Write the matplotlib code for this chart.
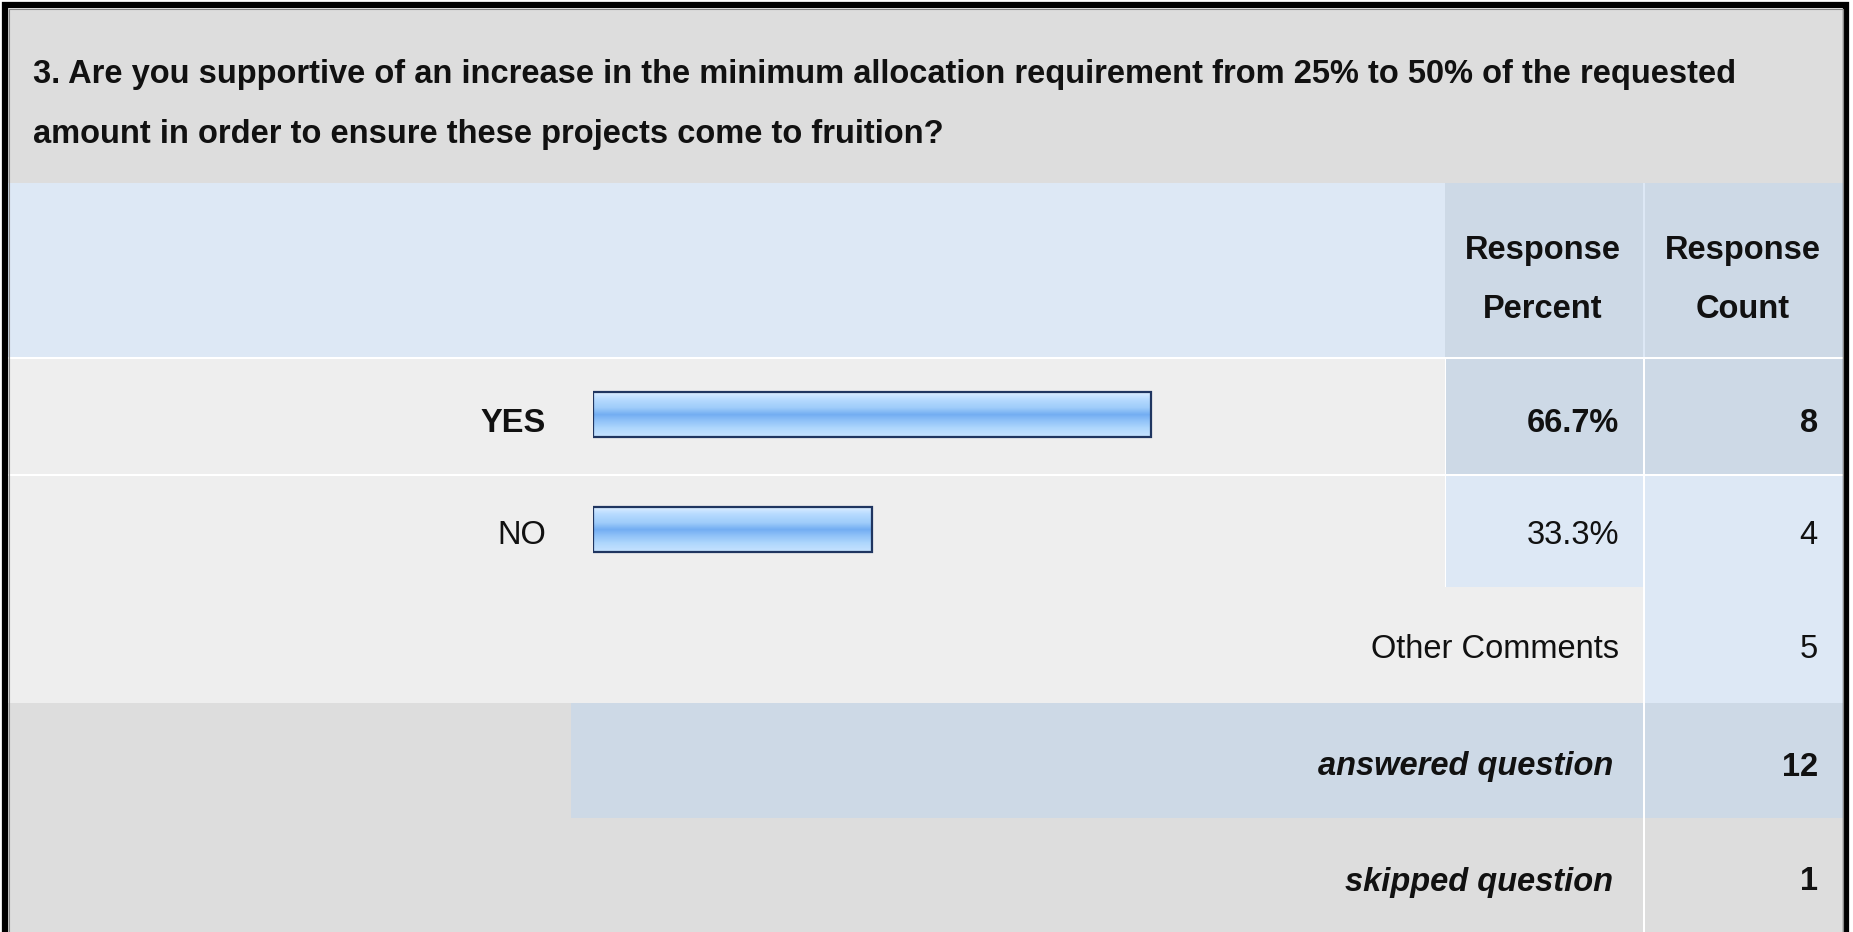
import matplotlib
matplotlib.use("Agg")
import matplotlib.pyplot as plt
from matplotlib.patches import Rectangle
from matplotlib import font_manager
import numpy as np

# ---- data ----
title_lines = ["3. Are you supportive of an increase in the minimum allocation requirement from 25% to 50% of the requested",
               "amount in order to ensure these projects come to fruition?"]
categories = ["YES", "NO"]
percents = [66.7, 33.3]
counts = [8, 4]
header_percent = ["Response", "Percent"]
header_count = ["Response", "Count"]
other_label = "Other Comments"
other_count = 5
answered_label = "answered question"
answered_count = 12
skipped_label = "skipped question"
skipped_count = 1

W, H = 1853, 932
names = {f.name for f in font_manager.fontManager.ttflist}
FONT = ["Liberation Sans Narrow", "Liberation Sans", "DejaVu Sans"] if "Liberation Sans Narrow" in names else ["Liberation Sans", "DejaVu Sans"]

fig = plt.figure(figsize=(W / 100, H / 100), dpi=100)
ax = fig.add_axes([0, 0, 1, 1])
ax.set_xlim(0, W)
ax.set_ylim(H, 0)
ax.axis("off")

GRAY = "#dddddd"
ROW = "#eeeeee"
LBLUE = "#dde8f5"
DBLUE = "#cdd9e6"

def rect(x0, y0, x1, y1, c, z=1):
    ax.add_patch(Rectangle((x0, y0), x1 - x0, y1 - y0, facecolor=c, edgecolor="none", zorder=z))

# layout (pixel positions)
L, R = 8, 1843
cP0, cP1, cC0 = 1445, 1643, 1645
yT, yH, yY, yN, yO, yA, yS = 9, 183, 357, 474, 587, 703, 818

rect(0, 0, W, H, "white", 0)
rect(L, yT, R, yH, GRAY)
rect(L, yH, R, yY, LBLUE)
rect(cP0, yH, cP1, yY, DBLUE)
rect(cC0, yH, R, yY, DBLUE)
# YES row
rect(L, yY + 2, cP0, yN, ROW)
rect(cP0 + 1, yY + 2, cP1, yN, DBLUE)
rect(cC0, yY + 2, R, yN, DBLUE)
# NO row
rect(L, yN + 2, cP0, yO, ROW)
rect(cP0 + 1, yN + 2, cP1, yO, LBLUE)
rect(cC0, yN + 2, R, yO, LBLUE)
# Other comments row
rect(L, yO, cP1, yA, ROW)
rect(cC0, yO, R, yA, LBLUE)
# answered row
rect(L, yA, cP1, yS, GRAY)
rect(571, yA, cP1, yS, DBLUE)
rect(cC0, yA, R, yS, DBLUE)
# skipped row
rect(L, yS, cP1, H, GRAY)
rect(cC0, yS, R, H, GRAY)

# border
ax.plot([5, 5, 1846, 1846], [H, 5, 5, H], color="black", lw=4.5, solid_joinstyle="miter", zorder=5)
ax.plot([8.5, 8.5, 1842.5, 1842.5], [H, 8.5, 8.5, H], color="#888888", lw=0.8, zorder=5)

DY = 4

def txt(x, y, s, size, ha="right", weight="normal", style="normal"):
    return ax.text(x, y + DY, s, fontsize=size, ha=ha, va="center", fontweight=weight,
                   fontstyle=style, family=FONT, color="#111111", zorder=6)

# title, fitted to the reference width
renderer = fig.canvas.get_renderer()
t1 = txt(33, 71, title_lines[0], 24, ha="left", weight="bold")
bb = t1.get_window_extent(renderer)
tsize = 24 * 1712 / bb.width
t1.set_fontsize(tsize)
txt(33, 131, title_lines[1], tsize, ha="left", weight="bold")

hs = tsize
txt(1543, 247, header_percent[0], hs, ha="center", weight="bold")
txt(1543, 306, header_percent[1], hs, ha="center", weight="bold")
txt(1743, 247, header_count[0], hs, ha="center", weight="bold")
txt(1743, 306, header_count[1], hs, ha="center", weight="bold")

ys = [420, 532]
for i, (c, p, n) in enumerate(zip(categories, percents, counts)):
    w = "bold" if i == 0 else "normal"
    txt(546, ys[i], c, hs, weight=w)
    txt(1619, ys[i], f"{p:.1f}%", hs, weight=w)
    txt(1818, ys[i], str(n), hs, weight=w)

txt(1619, 646, other_label, hs)
txt(1818, 646, str(other_count), hs)
txt(1613, 763, answered_label, hs, weight="bold", style="italic")
txt(1818, 763, str(answered_count), hs, weight="bold")
txt(1613, 878, skipped_label, hs, weight="bold", style="italic")
txt(1818, 878, str(skipped_count), hs, weight="bold")

# bars
bx0, bw = 593, 837
bax = fig.add_axes([bx0 / W, 1 - yO / H, bw / W, (yO - yY) / H])
bax.set_xlim(0, 100)
bax.set_ylim(1.5, -0.5)
bax.axis("off")
bars = bax.barh(range(len(categories)), percents, height=0.39,
                facecolor="none", edgecolor="#1f3560", linewidth=1.6, zorder=3)
grad = np.array([0.0, 0.15, 0.35, 0.5, 0.62, 0.8, 1.0])
cols = np.array([[0.86, 0.93, 1.0], [0.72, 0.86, 1.0], [0.62, 0.80, 0.98],
                 [0.45, 0.68, 0.95], [0.55, 0.75, 0.97], [0.68, 0.84, 0.99], [0.78, 0.89, 1.0]])
yy = np.linspace(0, 1, 64)
img = np.stack([np.interp(yy, grad, cols[:, k]) for k in range(3)], axis=1)[:, None, :]
for b in bars:
    x, y, w, h = b.get_x(), b.get_y(), b.get_width(), b.get_height()
    im = bax.imshow(img, extent=(x, x + w, y + h, y), aspect="auto", zorder=2, interpolation="bilinear")
    im.set_clip_path(b)
bax.set_xlim(0, 100)
bax.set_ylim(1.5, -0.5)

fig.savefig("out.png", dpi=100)
